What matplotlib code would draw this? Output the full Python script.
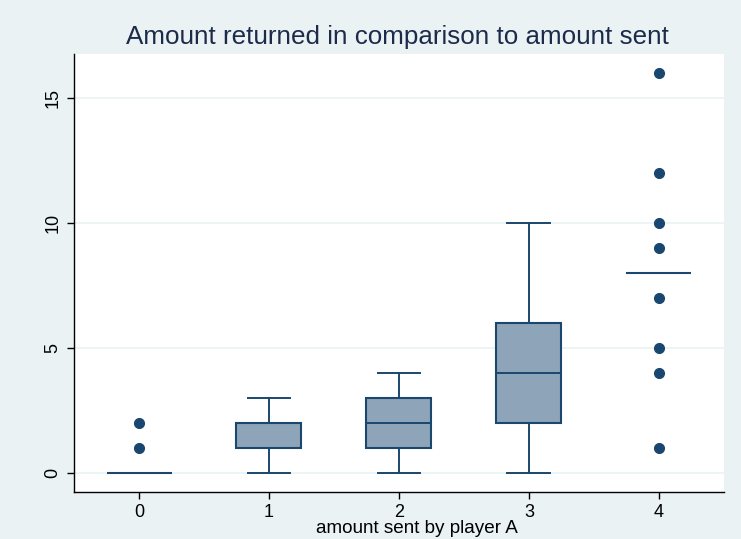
import matplotlib.pyplot as plt

plt.rcParams['font.family'] = ['Liberation Sans', 'DejaVu Sans']

groups = [0, 1, 2, 3, 4]
q1 = [0, 1, 1, 2, 8]
medians = [0, 1, 2, 4, 8]
q3 = [0, 2, 3, 6, 8]
whislo = [0, 0, 0, 0, 8]
whishi = [0, 3, 4, 10, 8]
outliers = [[1, 2], [], [], [], [1, 4, 5, 7, 9, 10, 12, 16]]

navy = '#1a476f'
fill = '#8ea4b8'
bg = '#eaf2f3'

stats = []
for i in range(len(groups)):
    stats.append({'q1': q1[i], 'med': medians[i], 'q3': q3[i],
                  'whislo': whislo[i], 'whishi': whishi[i],
                  'fliers': outliers[i], 'label': str(groups[i])})

fig = plt.figure(figsize=(7.41, 5.39), dpi=100, facecolor=bg)
ax = fig.add_axes([0.0999, 0.0872, 0.877, 0.8126])
ax.set_facecolor('white')

ax.bxp(stats, positions=groups, widths=0.5, patch_artist=True,
       boxprops=dict(facecolor=fill, edgecolor=navy, linewidth=1.5),
       medianprops=dict(color=navy, linewidth=1.4),
       whiskerprops=dict(color=navy, linewidth=1.4),
       capprops=dict(color=navy, linewidth=1.4),
       capwidths=0.33,
       flierprops=dict(marker='o', markerfacecolor=navy, markeredgecolor=navy,
                       markersize=7, linestyle='none'))

ax.set_xlim(-0.5, 4.5)
ax.set_ylim(-0.76, 16.76)
ax.set_yticks([0, 5, 10, 15])
ax.set_yticklabels(['0', '5', '10', '15'], rotation=90, va='center')
ax.set_xticks(groups)
ax.set_xticklabels([str(g) for g in groups])
ax.grid(axis='y', color=bg, linewidth=1.2)
ax.set_axisbelow(True)

for s in ['top', 'right']:
    ax.spines[s].set_visible(False)
ax.spines['left'].set_linewidth(1.0)
ax.spines['bottom'].set_linewidth(1.0)
ax.tick_params(labelsize=13, length=5, width=1.0, colors='black')
ax.tick_params(axis='y', pad=4)

fig.text(0.5628, 0.0186, 'amount sent by player A', fontsize=13.6,
         ha='center', va='center')
fig.text(0.5364, 0.931, 'Amount returned in comparison to amount sent',
         fontsize=18.7, color='#1c2b4a', ha='center', va='center')

fig.savefig('out.png', dpi=100, facecolor=bg)
